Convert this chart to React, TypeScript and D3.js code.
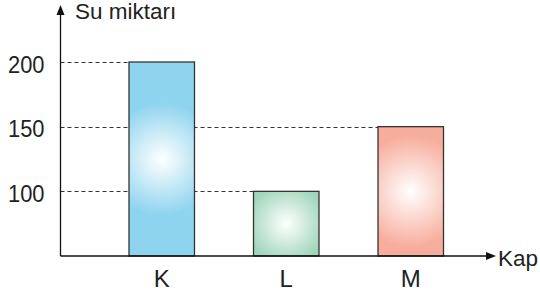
import React from "react";
import * as d3 from "d3";

const categories = ["K", "L", "M"];
const values = [200, 100, 150];
const yTicks = [100, 150, 200];
const colors = ["#8fd4ef", "#9fd5b9", "#f7ad9c"];
const yTitle = "Su miktarı";
const xTitle = "Kap";

export default function App() {
  const W = 540, H = 294;
  const axisX = 60.5, axisY = 256;
  const y = d3.scaleLinear().domain([50, 200]).range([axisY, 62]);
  const x = d3.scaleBand<string>().domain(categories).range([129, 443.5]).paddingInner(0.474).paddingOuter(0);
  const font = "'Liberation Sans', Arial, sans-serif";
  return (
    <svg width={W} height={H} style={{ position: "absolute", left: 0, top: 0 }}>
      <defs>
        {categories.map((c, i) => {
          const x0 = x(c) as number;
          const y0 = y(values[i]);
          const h = axisY - y0;
          const r = Math.min(56, h * 0.62);
          return (
            <radialGradient key={c} id={`g${i}`} gradientUnits="userSpaceOnUse" cx={x0 + x.bandwidth() / 2} cy={y0 + h / 2} r={r}>
              <stop offset="0%" stopColor="#ffffff" />
              <stop offset="100%" stopColor={colors[i]} />
            </radialGradient>
          );
        })}
      </defs>
      {yTicks.map((t) => {
        const idx = values.indexOf(t);
        const x2 = idx >= 0 ? (x(categories[idx]) as number) : axisX;
        return (
          <g key={t}>
            <line x1={axisX} x2={x2} y1={Math.round(y(t)) + 0.5} y2={Math.round(y(t)) + 0.5} stroke="#333" strokeWidth={1} strokeDasharray="4,3" />
            <text x={44.5} y={y(t) + 10.5} textAnchor="end" fontFamily={font} fontSize={23} textLength={36.5} lengthAdjust="spacingAndGlyphs" fill="#222">{t}</text>
          </g>
        );
      })}
      {categories.map((c, i) => (
        <g key={c}>
          <rect x={x(c)} y={y(values[i])} width={x.bandwidth()} height={axisY - y(values[i])} fill={`url(#g${i})`} stroke="#333" strokeWidth={1.3} />
          <text x={(x(c) as number) + x.bandwidth() / 2} y={287} textAnchor="middle" fontFamily={font} fontSize={24} fill="#222">{c}</text>
        </g>
      ))}
      <line x1={axisX} x2={axisX} y1={axisY} y2={12} stroke="#111" strokeWidth={1.3} />
      <path d={`M${axisX},5 L${axisX - 4},15 L${axisX + 4},15 Z`} fill="#111" />
      <line x1={axisX} x2={488} y1={axisY} y2={axisY} stroke="#111" strokeWidth={1.3} />
      <path d={`M496,${axisY} L486,${axisY - 4} L486,${axisY + 4} Z`} fill="#111" />
      <text x={75} y={18.5} fontFamily={font} fontSize={22.5} fill="#222">{yTitle}</text>
      <text x={498} y={266} fontFamily={font} fontSize={22.5} fill="#222">{xTitle}</text>
    </svg>
  );
}
